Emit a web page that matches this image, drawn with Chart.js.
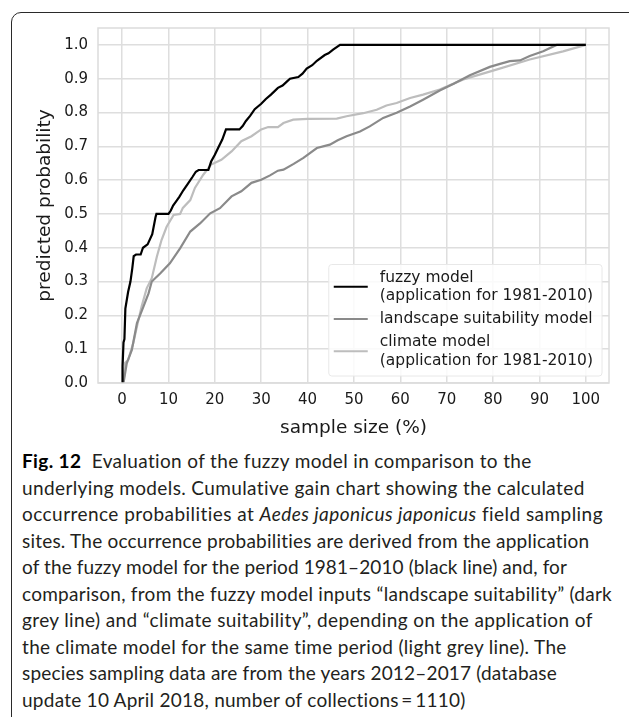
<html lang="en">
<head>
  <meta charset="UTF-8">
  <title>Fig. 12 cumulative gain</title>
  <script src="https://cdn.jsdelivr.net/npm/chart.js"></script>
  <style>
    body, html {
      margin: 0;
      padding: 0;
      background-color: #ffffff;
      width: 629px;
      height: 717px;
      overflow: hidden;
    }
    #frame {
      position: absolute;
      left: 11px;
      top: 12px;
      width: 650px;
      height: 716px;
      border: 1.5px solid #2a2a2a;
      border-radius: 10px;
      pointer-events: none;
    }
    #myChart {
      position: absolute;
      left: 0;
      top: 0;
    }
    #caption {
      position: absolute;
      left: 22px;
      top: 448px;
      font-family: Lato, sans-serif;
      font-size: 19px;
      line-height: 26.5px;
      color: #231f20;
      white-space: nowrap;
    }
    #caption b { color: #000; }
  </style>
</head>
<body>
  <div id="frame"></div>
  <canvas id="myChart" width="629" height="440"></canvas>
  <div id="caption">
    <div><span><b>Fig. 12</b>&nbsp; Evaluation of the fuzzy model in comparison to the</span></div>
    <div><span>underlying models. Cumulative gain chart showing the calculated</span></div>
    <div><span>occurrence probabilities at <i>Aedes japonicus japonicus</i> field sampling</span></div>
    <div><span>sites. The occurrence probabilities are derived from the application</span></div>
    <div><span>of the fuzzy model for the period 1981–2010 (black line) and, for</span></div>
    <div><span>comparison, from the fuzzy model inputs “landscape suitability” (dark</span></div>
    <div><span>grey line) and “climate suitability”, depending on the application of</span></div>
    <div><span>the climate model for the same time period (light grey line). The</span></div>
    <div><span>species sampling data are from the years 2012–2017 (database</span></div>
    <div><span>update 10 April 2018, number of collections&thinsp;=&thinsp;1110)</span></div>
  </div>

  <script>
    // fuzzy model (black)
    const fuzzyX = [0, 0.1, 0.3, 0.5, 0.7, 1.3, 1.8, 2.2, 2.5, 3.0, 4.0, 4.5, 5.5, 6.5, 7.2, 7.4, 10.0, 10.5, 11.0, 11.8, 12.3, 13.2, 14.2, 15.2, 15.9, 16.5, 18.6, 19.2, 20.0, 20.7, 21.6, 22.4, 25.3, 26.0, 26.7, 27.6, 28.6, 30.0, 31.0, 32.1, 33.6, 34.6, 35.4, 36.2, 38.0, 38.9, 39.8, 41.0, 42.0, 43.7, 44.5, 45.5, 47.0, 100];
    const fuzzyY = [0, 0.05, 0.12, 0.13, 0.22, 0.27, 0.30, 0.34, 0.375, 0.38, 0.38, 0.40, 0.41, 0.44, 0.49, 0.50, 0.50, 0.51, 0.525, 0.54, 0.55, 0.57, 0.59, 0.61, 0.625, 0.63, 0.63, 0.655, 0.675, 0.695, 0.72, 0.75, 0.75, 0.76, 0.775, 0.79, 0.81, 0.826, 0.84, 0.853, 0.873, 0.88, 0.89, 0.90, 0.905, 0.915, 0.93, 0.94, 0.953, 0.97, 0.975, 0.986, 1.0, 1.0];

    // landscape suitability model (dark grey)
    const landX = [0.3, 1.0, 2.1, 3.2, 4.6, 5.7, 6.4, 8.2, 10.3, 12.5, 14.7, 16.8, 19.0, 21.1, 23.6, 25.7, 27.9, 30.0, 31.9, 33.6, 34.8, 37.0, 39.1, 42.0, 44.8, 46.5, 48.4, 51.3, 53.4, 56.3, 59.2, 62.1, 64.9, 68.5, 71.5, 75.0, 79.3, 81.5, 83.6, 85.8, 87.9, 90.8, 93.7, 100];
    const landY = [0, 0.058, 0.098, 0.177, 0.226, 0.265, 0.30, 0.324, 0.354, 0.398, 0.448, 0.472, 0.502, 0.517, 0.552, 0.567, 0.592, 0.601, 0.614, 0.628, 0.631, 0.648, 0.666, 0.695, 0.705, 0.718, 0.73, 0.744, 0.759, 0.784, 0.799, 0.818, 0.838, 0.865, 0.885, 0.91, 0.935, 0.944, 0.952, 0.954, 0.967, 0.981, 1.0, 1.0];

    // climate model (light grey)
    const climX = [0.3, 0.65, 1.3, 2.4, 3.2, 4.2, 5.3, 6.4, 7.5, 8.5, 9.6, 11.1, 12.5, 13.1, 14.7, 15.7, 17.5, 19.2, 21.4, 23.6, 25.7, 27.9, 30.0, 31.5, 33.6, 34.8, 36.9, 40.0, 46.3, 48.4, 52.0, 54.9, 57.0, 59.2, 62.1, 64.9, 68.5, 73.6, 80.7, 87.9, 95.1, 100];
    const climY = [0, 0.06, 0.068, 0.118, 0.167, 0.226, 0.28, 0.31, 0.374, 0.423, 0.462, 0.497, 0.50, 0.518, 0.541, 0.577, 0.616, 0.646, 0.66, 0.685, 0.715, 0.73, 0.75, 0.757, 0.757, 0.769, 0.779, 0.781, 0.782, 0.789, 0.798, 0.808, 0.821, 0.828, 0.843, 0.853, 0.868, 0.898, 0.927, 0.957, 0.981, 1.0];

    const seriesLabels = ['fuzzy model\n(application for 1981-2010)', 'landscape suitability model', 'climate model\n(application for 1981-2010)'];
    const seriesColors = ['#000000', '#8a8a8a', '#bdbdbd'];

    // caption layout: where each printed line ends (the journal font is narrower than Lato)
    const captionLineEnds = [532, 585, 603, 590, 567, 612, 593, 567, 557, 466];
    function fitCaption() {
      const cap = document.getElementById('caption');
      const capLeft = cap.getBoundingClientRect().left;
      cap.querySelectorAll('span').forEach((s, i) => {
        s.style.letterSpacing = '0px';
        const w = s.getBoundingClientRect().width;
        const n = s.textContent.length;
        s.style.letterSpacing = ((captionLineEnds[i] - capLeft - w) / n) + 'px';
      });
    }
    fitCaption();
    if (document.fonts) document.fonts.ready.then(fitCaption);

    const toPoints = (xs, ys) => xs.map((x, i) => ({x: x, y: ys[i]}));

    // grey frame round the plot + matplotlib-like legend box
    const frameAndLegend = {
      id: 'frameAndLegend',
      afterDatasetsDraw(chart) {
        const ctx = chart.ctx;
        const a = chart.chartArea;
        ctx.save();
        ctx.strokeStyle = '#dcdcdc';
        ctx.lineWidth = 1.5;
        ctx.strokeRect(a.left, a.top, a.right - a.left, a.bottom - a.top);

        ctx.font = '15.5px "DejaVu Sans"';
        const entries = chart.data.datasets.map(d => ({lines: d.label.split('\n'), color: d.borderColor}));
        let textW = 0;
        entries.forEach(e => e.lines.forEach(l => { textW = Math.max(textW, ctx.measureText(l).width); }));
        const lineH = 18.5, gap = 4.5;
        let h = 13 + 15.5;
        entries.forEach((e, i) => { h += (e.lines.length - 1) * lineH + (i > 0 ? lineH + gap : 0); });
        const right = a.right - 7, bottom = a.bottom - 7;
        const w = 51 + textW + 9;
        const left = right - w, top = bottom - h;

        ctx.fillStyle = 'rgba(255,255,255,0.85)';
        ctx.strokeStyle = '#e8e8e8';
        ctx.lineWidth = 1;
        ctx.beginPath();
        ctx.roundRect(left, top, w, h, 3);
        ctx.fill();
        ctx.stroke();

        let y = top + 13;
        ctx.textBaseline = 'middle';
        ctx.textAlign = 'left';
        entries.forEach((e, i) => {
          if (i > 0) y += lineH + gap;
          const hy = y + (e.lines.length - 1) * lineH / 2;
          ctx.strokeStyle = e.color;
          ctx.lineWidth = 2.2;
          ctx.beginPath();
          ctx.moveTo(left + 5, hy);
          ctx.lineTo(left + 39, hy);
          ctx.stroke();
          ctx.fillStyle = '#1a1a1a';
          e.lines.forEach((l, k) => {
            ctx.fillText(l, left + 51, y + k * lineH);
          });
          y += (e.lines.length - 1) * lineH;
        });
        ctx.restore();
      }
    };

    const ctx = document.getElementById('myChart').getContext('2d');
    const myChart = new Chart(ctx, {
      type: 'scatter',
      data: {
        datasets: [
          {
            label: seriesLabels[0],
            data: toPoints(fuzzyX, fuzzyY),
            showLine: true,
            borderColor: seriesColors[0],
            borderWidth: 2.2,
            pointRadius: 0,
            fill: false
          },
          {
            label: seriesLabels[1],
            data: toPoints(landX, landY),
            showLine: true,
            borderColor: seriesColors[1],
            borderWidth: 2.2,
            pointRadius: 0,
            fill: false
          },
          {
            label: seriesLabels[2],
            data: toPoints(climX, climY),
            showLine: true,
            borderColor: seriesColors[2],
            borderWidth: 2.2,
            pointRadius: 0,
            fill: false
          }
        ]
      },
      options: {
        responsive: false,
        animation: false,
        layout: {
          padding: {left: 0, right: 20, top: 28, bottom: 0}
        },
        scales: {
          x: {
            type: 'linear',
            min: -5.2,
            max: 105,
            afterFit: function(scale) { scale.height = 57; },
            ticks: {
              stepSize: 10,
              includeBounds: false,
              padding: 8,
              color: '#1a1a1a',
              font: {family: 'DejaVu Sans', size: 15}
            },
            grid: {
              color: '#dedede',
              lineWidth: 1.5,
              drawTicks: false
            },
            border: {display: false},
            title: {
              display: true,
              text: 'sample size (%)',
              color: '#1a1a1a',
              font: {family: 'DejaVu Sans', size: 18.5},
              padding: {top: 0, bottom: 1}
            }
          },
          y: {
            type: 'linear',
            min: 0,
            max: 1.05,
            afterFit: function(scale) { scale.width = 98; },
            ticks: {
              stepSize: 0.1,
              includeBounds: false,
              padding: 10,
              color: '#1a1a1a',
              font: {family: 'DejaVu Sans', size: 15},
              callback: function(value) {
                return value.toFixed(1);
              }
            },
            grid: {
              color: '#dedede',
              lineWidth: 1.5,
              drawTicks: false
            },
            border: {display: false},
            title: {
              display: true,
              text: 'predicted probability',
              color: '#1a1a1a',
              font: {family: 'DejaVu Sans', size: 18.5},
              padding: {top: 34, bottom: 0}
            }
          }
        },
        plugins: {
          legend: {display: false},
          tooltip: {enabled: false}
        }
      },
      plugins: [frameAndLegend]
    });
  </script>
</body>
</html>
